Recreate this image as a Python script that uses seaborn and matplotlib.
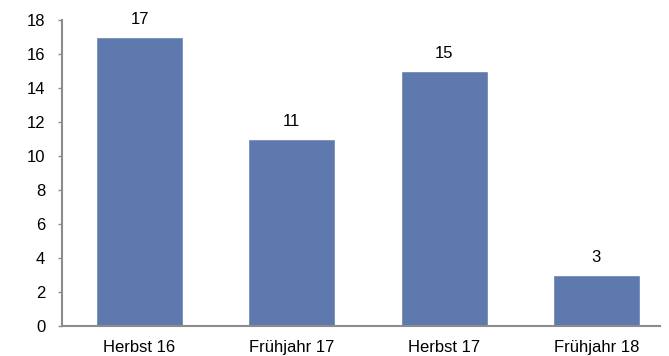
import matplotlib
matplotlib.use("Agg")
import matplotlib.pyplot as plt
import seaborn as sns
import pandas as pd

categories = ["Herbst 16", "Frühjahr 17", "Herbst 17", "Frühjahr 18"]
values = [17, 11, 15, 3]

sns.set_theme(style="white")
plt.rcParams["font.family"] = ["Liberation Sans", "DejaVu Sans"]

df = pd.DataFrame({"Semester": categories, "Anzahl": values})

fig = plt.figure(figsize=(6.69, 3.56), dpi=100)
ax = fig.add_axes([62 / 669, 1 - 326 / 356, (660 - 62) / 669, (326 - 20) / 356])

sns.barplot(data=df, x="Semester", y="Anzahl", color="#5d79ad", saturation=1,
            width=0.571, ax=ax)

for i, v in enumerate(values):
    ax.annotate(str(v), xy=(i, v), xytext=(0, 7.5), textcoords="offset points",
                ha="center", va="bottom", fontsize=12, color="black")

ax.set_ylim(0, 18)
ax.set_xlim(-0.509, 3.418)
ax.set_yticks(range(0, 19, 2))
ax.set_xlabel("")
ax.set_ylabel("")
ax.tick_params(axis="y", length=3, width=1, color="#8c8c8c", direction="out",
               labelsize=12, labelcolor="black", pad=9, left=True)
ax.tick_params(axis="x", length=0, labelsize=12, labelcolor="black", pad=10)

for side in ["top", "right"]:
    ax.spines[side].set_visible(False)
for side in ["left", "bottom"]:
    ax.spines[side].set_color("#8c8c8c")
    ax.spines[side].set_linewidth(1.5)

fig.savefig("out.png", dpi=100)
